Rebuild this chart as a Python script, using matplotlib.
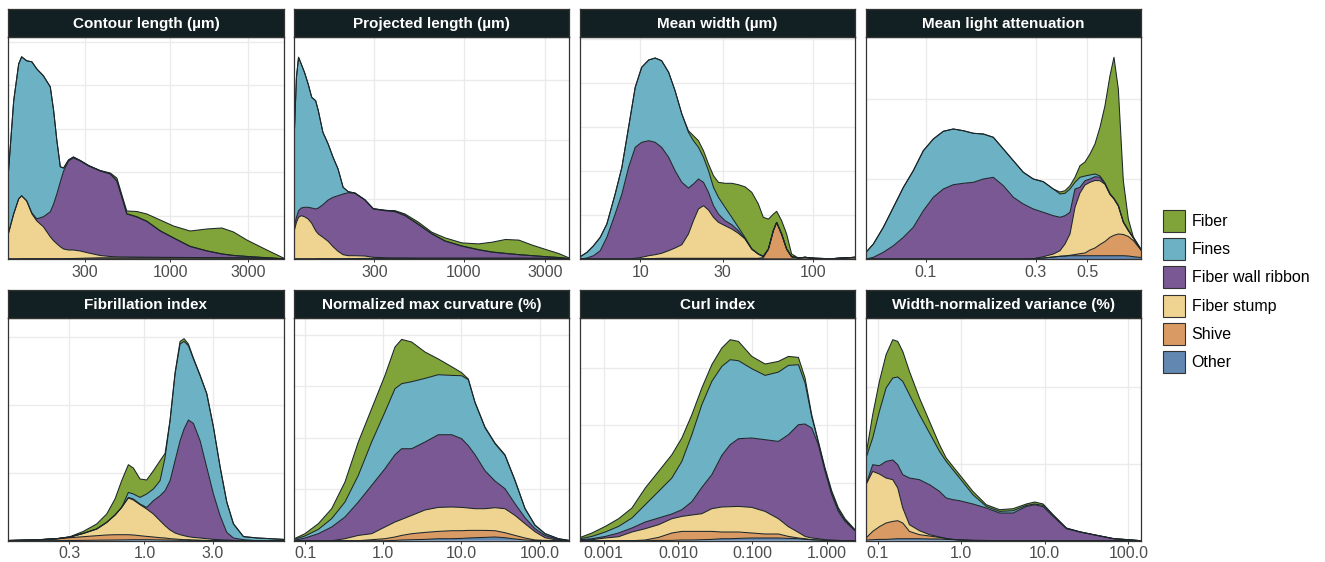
import matplotlib
matplotlib.use("Agg")
import matplotlib.pyplot as plt
from matplotlib.patches import Patch
from matplotlib.ticker import NullLocator
import numpy as np

plt.rcParams['font.family'] = ['Liberation Sans', 'DejaVu Sans']

# particle classes, legend order (top of the stack first)
classes = ["Fiber", "Fines", "Fiber wall ribbon", "Fiber stump", "Shive", "Other"]
class_colors = ["#80a33a", "#6db2c4", "#7a5893", "#eed391", "#d99b63", "#6287b1"]

# --- Contour length (um) ---
contour_x = [101, 109, 117, 122, 131, 141, 151, 166, 183, 192, 201, 211, 221, 237, 254, 280, 315, 371, 428, 470,
             504, 541, 624, 719, 868, 1048, 1327, 1681, 2079, 2452, 2961, 3930, 4977]
contour_other = [0.1, 0.1, 0.1, 0.2, 0.2, 0.2, 0.2, 0.2, 0.2, 0.2, 0.2, 0.2, 0.2, 0.2, 0.2, 0.2, 0.2, 0.2, 0.2, 0.2,
                 0.2, 0.2, 0.2, 0.2, 0.2, 0.2, 0.2, 0.2, 0.2, 0.2, 0.2, 0.2, 0.1]
contour_shive = [0, 0, 0, 0, 0, 0, 0, 0, 0, 0, 0, 0, 0.1, 0.2, 0.3, 0.5, 0.7, 1.0, 1.0, 1.0,
                 1.0, 1.0, 1.1, 1.1, 1.1, 1.1, 1.1, 1.0, 1.0, 0.9, 0.8, 0.5, 0.1]
contour_stump = [25, 45, 60, 63, 58, 45, 38, 32, 22, 18, 15, 12, 9.7, 8.6, 8.5, 7.3, 5.1, 2.3, 1.3, 1.0,
                 0.9, 0.8, 0.6, 0.5, 0.4, 0.3, 0.2, 0.2, 0.1, 0.1, 0.1, 0.1, 0]
contour_ribbon = [0, 0, 0, 0, 0, 1, 2, 10, 25, 37, 50, 65, 78, 89, 92, 90, 87, 84.5, 82.5, 75.8,
                  60, 43, 40.1, 35.7, 26.3, 19.4, 11, 6.6, 3.7, 2.3, 1.4, 0.4, 0.1]
contour_fines = [60, 113, 135, 139, 140, 151, 150, 141, 125, 93, 53, 15, 3, 1, 1, 0.5, 0.5, 0.3, 0.3, 0.3,
                 0.3, 0.3, 0.3, 0.3, 0.3, 0.2, 0.2, 0.2, 0.1, 0.1, 0.1, 0.1, 0.05]
contour_fiber = [0, 0, 0, 0, 0, 0, 0, 0, 0, 0, 0, 0, 0, 0, 0, 0, 0, 0.2, 0.7, 2.7,
                 2, 2.7, 5.2, 7.2, 10.7, 11.8, 15.3, 21.8, 25.9, 23.4, 16.4, 7.7, 0.65]

# --- Projected length (um) ---
projected_x = [102, 105, 108, 112, 117, 123, 129, 136, 141, 150, 161, 172, 184, 197, 211, 231, 264, 296, 347, 397,
               454, 544, 651, 780, 978, 1225, 1467, 1757, 2105, 2521, 3018, 3615, 4140]
projected_other = [0.1] * 8 + [0.2] * 24 + [0.1]
projected_shive = [0, 0, 0, 0, 0, 0, 0, 0, 0, 0, 0, 0, 0, 0.1, 0.1, 0.2, 0.4, 0.5, 0.5, 0.5,
                   0.5, 0.5, 0.5, 0.5, 0.5, 0.5, 0.5, 0.5, 0.5, 0.5, 0.5, 0.3, 0.1]
projected_stump = [28.2, 36.6, 41.6, 43.2, 42.2, 39.9, 35.6, 28.2, 24.8, 21.5, 17.5, 12.1, 7.5, 4.0, 3.0, 2.9,
                   2.4, 1.0, 0.6, 0.3, 0.3, 0.1, 0.1, 0.1, 0.1, 0.1, 0.1, 0.1, 0.1, 0.1, 0.1, 0.1, 0]
projected_ribbon = [5, 5, 6.6, 7.7, 9.4, 11.7, 15.3, 21.7, 26, 32.6, 41.3, 49.4, 55.6, 60.7, 63, 62.4, 56, 48.3,
                    47, 46.3, 42.3, 33.6, 24.3, 17, 12, 8.3, 6, 4.7, 3.5, 2.5, 1.5, 0.8, 0.2]
projected_fines = [91.7, 140, 153.4, 144, 135, 123.3, 110.7, 108.3, 97.3, 72.4, 56, 40, 26.7, 6.7, 1, 0.3, 0.3,
                   0.3, 0.4, 0.4, 0.4, 0.4, 0.3, 0.3, 0.3, 0.3, 0.3, 0.2, 0.1, 0.1, 0.1, 0.1, 0.1]
projected_fiber = [0] * 18 + [0, 0.6, 1.3, 2, 1.4, 3, 3, 5.7, 9.7, 13.8, 14.5, 10.5, 7.2, 3.9, 0.6]

# --- Mean width (um) ---
width_x = [4.51, 4.93, 5.38, 5.88, 6.42, 7.17, 7.84, 8.57, 9.36, 10.2, 11.2, 12.2, 13.3, 14.6, 15.9, 17.4, 19.0,
           20.3, 21.7, 23.2, 24.8, 26.5, 28.3, 30.9, 33.8, 36.9, 40.3, 44.1, 48.1, 51.4, 55.0, 58.7, 61.4, 65.6,
           70.1, 74.9, 81.9, 89.5, 102, 127, 174]
width_other = [0, 0, 0, 0, 0, 0, 0, 0, 0, 0.1, 0.3, 0.5, 0.6, 0.6, 0.6, 0.6, 0.6, 0.6, 0.6, 0.6,
               0.6, 0.6, 0.6, 0.6, 0.6, 0.6, 0.6, 0.6, 0.4, 0.2, 0.1, 0.1, 0.1, 0.1, 0.1, 0.1, 0, 0, 0, 0, 0]
width_shive = [0] * 28 + [0.3, 1.2, 9.8, 28.1, 36.5, 24.8, 9.8, 2.2, 1, 1.7, 0.7, 0.3, 1.7]
width_stump = [0, 0, 0, 0, 0, 0, 0, 0, 0.7, 1.6, 3.0, 3.8, 5.1, 7.7, 10.4, 13.7, 24.4, 37.7, 49.4, 52.7,
               48.4, 41.1, 36.1, 32.7, 29.4, 25.1, 19.4, 9.1, 4.1, 0.9] + [0] * 11
width_ribbon = [0, 1, 3.3, 8.3, 21.7, 45, 65, 91.7, 111, 115, 115, 112.4, 106, 93.4, 77.3, 62.4, 46, 36.7, 30,
                23.4, 17.7, 11.6, 8.3, 5, 4.3, 2.6, 0.5, 0.3, 0.2, 0.4] + [0] * 11
width_fines = [2.3, 5.7, 10, 13.4, 13.3, 20, 26.7, 40, 60, 75, 80.7, 84.3, 86.6, 85, 80, 68.3, 55.7, 43.3, 31.7,
               25, 21.6, 18.4, 16.7, 13.4, 7.4, 3.4, 1, 0.3, 0.1] + [0] * 12
width_fiber = [0] * 16 + [1.6, 5, 6.6, 6.6, 6.7, 11.6, 15, 24, 34, 42.6, 50.7, 56.4, 50, 39,
                          30, 16.6, 11.1, 13.4, 15.1, 2.7, 0, 0, 0, 0, 0]

# --- Mean light attenuation ---
atten_x = [0.0552, 0.0594, 0.0656, 0.0725, 0.0801, 0.0884, 0.0977, 0.1079, 0.1192, 0.1317, 0.1455, 0.1608,
           0.1776, 0.1962, 0.2168, 0.2395, 0.2645, 0.2922, 0.3228, 0.3566, 0.3811, 0.4006, 0.4210, 0.4425,
           0.4650, 0.4888, 0.5137, 0.5399, 0.5675, 0.5965, 0.6269, 0.6524, 0.6813, 0.7161, 0.7526, 0.7910, 0.8539]
atten_other = [0] * 17 + [0.3, 1, 2, 2.7, 3] + [3.3] * 12 + [3, 2.3, 1.5]
atten_shive = [0] * 22 + [0.4, 1.2, 2, 2.7, 5.7, 7.7, 11.2, 14.2, 18.4, 20.4, 21.7, 21.2, 19.5, 16.2, 7.5]
atten_stump = [0] * 18 + [1.3, 3, 5.6, 12, 21.3, 47.2, 60.7, 68, 67.7, 67.5, 63.8, 57.2, 42.8, 36.3, 28, 12.2,
                          5.8, 2.5, 0]
atten_ribbon = [0, 1.7, 6.7, 13.3, 21.7, 31.7, 48.3, 61.7, 70, 74.3, 75.7, 76.7, 80, 81.7, 73.3, 61.7, 55, 49.7,
                44.4, 38.3, 33.4, 28.3, 21.7, 18.3, 5.7, 4.3, 3.3, 3.8, 3.4, 0.6, 0.5, 0.3, 0.3, 0.3, 0.3, 0.3, 0.3]
atten_fines = [6.7, 13.3, 25, 38.4, 50, 56.6, 60, 58.3, 57.7, 55.7, 52.6, 49, 45, 40, 36.7, 36.6, 31.7, 30, 30.6,
               26.7, 23.3, 22.4, 23.3, 6.7, 10, 4.7, 4, 2.7, 1.3, 0.7, 0.3, 0.3, 0.3, 0.3, 0.3, 0.3, 0.2]
atten_fiber = [0] * 20 + [2, 2.6, 3.3, 5, 11.6, 14, 21, 30, 48.7, 77.3, 118, 141.1, 116.4, 41, 11.1, 0.4, 0.2]

# --- Fibrillation index ---
fibril_x = [0.1127, 0.168, 0.2446, 0.3031, 0.3755, 0.4652, 0.5463, 0.6244, 0.6948, 0.7735, 0.8381, 0.9328,
            1.038, 1.156, 1.286, 1.394, 1.510, 1.636, 1.773, 1.890, 2.027, 2.196, 2.444, 2.721, 3.028, 3.371,
            3.751, 4.175, 4.902, 6.073, 9.318]
fibril_other = [0, 0, 0.1, 0.2, 0.3, 0.5, 0.6, 0.7, 0.8, 0.9, 1.0, 1.0, 1.0, 0.9, 0.8, 0.7, 0.6, 0.5, 0.4, 0.4,
                0.3, 0.3, 0.2, 0.1, 0.1, 0, 0, 0, 0, 0, 0]
fibril_shive = [0.2, 0.7, 1.6, 2.8, 3.7, 4.5, 5.1, 5.3, 5.2, 5.1, 4.7, 4.0, 3.3, 2.8, 2.2, 2.0, 1.4, 1.2, 0.9,
                0.6, 0.7, 0.4, 0.3, 0.2, 0.1, 0.1, 0, 0, 0, 0, 0]
fibril_stump = [0, 0, 0.3, 0.7, 3.3, 6.7, 12.6, 19.7, 27.3, 36.7, 35, 31, 27.4, 23, 17, 12.3, 8.7, 6, 4.7, 4,
                3, 2.6, 2.2, 1.7, 1.1, 0.9, 0.7, 0.3, 0, 0, 0]
fibril_ribbon = [0, 0, 0, 0, 0, 0, 0, 0, 0, 0.6, 1.0, 0.7, 1.6, 13.3, 25, 35, 49.3, 72.3, 94, 106.7,
                 116.7, 114, 97.3, 71.3, 45.4, 24, 7.6, 2.4, 1, 0, 0]
fibril_fines = [0, 0, 0, 0, 0, 0, 0, 0, 0, 5, 5, 6.6, 13.4, 11.7, 15, 33.3, 60, 86.7, 96.7, 87.6,
                74.3, 64.4, 65, 73.4, 66.6, 48.3, 30, 14, 3, 2.7, 1.3]
fibril_fiber = [0, 0, 0, 0.3, 2, 5, 8.4, 16, 26.7, 27.7, 26, 18.4, 14, 18.3, 20, 4, 0.7, 1.3, 2.6, 2.7,
                1.7, 1, 0.7, 0.6, 0.7, 0.7, 0.7, 0.3, 0.2, 0.1, 0]

# --- Normalized max curvature (%) ---
curv_x = [0.0725, 0.0993, 0.1472, 0.2181, 0.3229, 0.4786, 0.7090, 1.050, 1.411, 1.717, 2.306, 3.416, 5.061,
          7.497, 10.07, 12.26, 14.92, 20.03, 26.9, 36.1, 48.5, 65.2, 87.5, 117.5, 174.1, 238.4]
curv_other = [0, 0, 0, 0, 0, 0, 0, 0, 0.3, 0.7, 1, 1.3, 2, 2, 2.3, 2.7, 3, 3.3, 3.7, 3, 1.7, 0.7, 0.2, 0, 0, 0]
curv_shive = [0, 0, 0, 0, 0, 0, 1, 2, 3.4, 4.6, 6, 7, 7.3, 8, 7.7, 7.6, 7.3, 7, 6.3, 5, 3.6, 2, 0.5, 0.3, 0, 0]
curv_stump = [0, 0, 0, 0, 2, 5.3, 6, 11.7, 15, 16, 18.3, 22.4, 24, 23.7, 23.3, 22.4, 21.7, 21.7, 23, 24,
              20, 14.3, 8.3, 2.7, 0.3, 0]
curv_ribbon = [0.3, 2.7, 7, 13.7, 21.7, 33.4, 48.3, 58.3, 67.3, 70.7, 66.7, 68, 72.7, 72.3, 68.7, 62.3, 54, 38,
               26.7, 20, 11.7, 6, 3, 2.3, 1, 0]
curv_fines = [1, 2, 4.3, 8.3, 15, 26.6, 43.4, 56.7, 66, 65, 67, 63.6, 60, 59.3, 63, 66, 52, 43, 37.3, 33.3,
              23, 9, 3.3, 1.7, 0.7, 0.3]
curv_fiber = [0.7, 2.3, 5.7, 10, 20, 33.4, 33.3, 36.6, 41.7, 44.3, 39.7, 26.4, 15.7, 8.7, 3, 0.7, 0.7, 0.7,
              0.7, 0.7, 0.7, 0.3, 0.4, 0.2, 0, 0]

# --- Curl index ---
curl_x = [0.000487, 0.000699, 0.001056, 0.001595, 0.00241, 0.00364, 0.0055, 0.0083, 0.01131, 0.01542, 0.0210,
          0.0286, 0.0390, 0.0505, 0.0653, 0.0987, 0.149, 0.225, 0.3068, 0.418, 0.5137, 0.6313, 0.7757, 0.9537,
          1.172, 1.44, 1.771, 2.412]
curl_other = [0, 0, 0, 0, 0, 0, 0.3, 0.3, 0.7, 0.7, 1, 1.3, 2, 2, 2.3, 2.7, 2.7, 2.7, 2.3, 2,
              1.3, 1, 0.7, 0.3, 0, 0, 0, 0]
curl_shive = [0, 0, 0, 0, 0, 0.7, 3, 7.4, 8.6, 8.6, 8.3, 8, 6.7, 6.7, 6.4, 5, 4, 4, 2, 0.7,
              0.7, 0, 0, 0, 0, 0, 0, 0]
curl_stump = [0.7, 1, 2.7, 4, 8.7, 11.3, 12.7, 14.3, 15, 16.4, 17.7, 22.7, 25, 25.3, 25.6, 25.6, 22.6, 15.3,
              9.7, 5.6, 2.3, 1.7, 1.3, 0.7, 0.7, 0.3, 0, 0]
curl_ribbon = [0.3, 1, 1.6, 3.7, 4, 6.7, 6.7, 4.7, 6.7, 13.3, 26.3, 34, 51.6, 62, 67.7, 69.4, 71.7, 77.3, 92,
               107.7, 112.4, 110, 94, 68.3, 45.3, 29, 19.3, 10]
curl_fines = [1, 2.3, 4.4, 6.6, 10, 17.3, 26.6, 36, 48.3, 67, 82.7, 93.3, 89, 85, 78, 69.3, 64.3, 69.3, 69.3,
              60, 41, 11.3, 2, 2, 2, 1.7, 1.2, 0.5]
curl_fiber = [1.3, 3.4, 5.6, 7.7, 10, 16.7, 20, 23.3, 23.4, 20, 16.7, 16.7, 18.4, 20, 19.3, 12.3, 11.4, 10.7,
              9, 7.3, 5, 2, 1.3, 1.4, 2, 2, 1.5, 0.5]

# --- Width-normalized variance (%) ---
wvar_x = [0.0724, 0.0871, 0.1047, 0.1259, 0.1514, 0.1738, 0.1995, 0.2399, 0.3162, 0.4169, 0.5495, 0.6607,
          0.7943, 0.955, 1.380, 1.995, 2.884, 4.169, 6.026, 7.586, 9.55, 12.59, 18.2, 26.3, 38.0, 66.1, 141.9]
wvar_other = [0.7, 1, 1.3, 1.3, 1.7, 2, 2, 2, 2, 1.7, 1.7, 1.3, 1, 0.7, 0.3, 0.2, 0.1] + [0] * 10
wvar_shive = [2, 8.3, 12.7, 16.4, 17.6, 18, 15.7, 7.3, 4, 3, 1.6, 0.7, 0.3] + [0] * 14
wvar_stump = [53.3, 60, 52.7, 45, 41.7, 32.7, 15, 6.7, 4, 1.3, 0.4, 0.3] + [0] * 15
wvar_ribbon = [0, 6.7, 8.3, 16.6, 19.7, 23.3, 33.3, 46.7, 51, 50, 45.6, 40.4, 39.7, 39.3, 36.4, 32.5, 27.6,
               27.7, 34.3, 36, 34, 24.3, 12, 8.7, 6, 2, 0]
wvar_fines = [26.7, 26.7, 54.3, 73.4, 82, 87.7, 93.3, 83.3, 65, 51.7, 40, 36.6, 30, 22.7, 9.3, 1.6, 1.6, 2.3,
              1, 0.7, 1.3, 1, 0.3, 0.1, 0.1, 0.1, 0]
wvar_fiber = [3.3, 23.3, 30, 33.3, 38.3, 35.6, 30, 23.3, 16.7, 11.6, 6.7, 3.4, 3.3, 3.3, 3.3, 1.7, 1.7, 2,
              1.4, 2, 1.4, 0.7, 0.4, 0.2, 0.1, 0.1, 0]

# title, x, layers (bottom to top), tick values, tick labels, y grid step
panels = [
    ("Contour length (µm)", contour_x,
     [contour_other, contour_shive, contour_stump, contour_ribbon, contour_fines, contour_fiber],
     [300, 1000, 3000], ["300", "1000", "3000"], 43.4),
    ("Projected length (µm)", projected_x,
     [projected_other, projected_shive, projected_stump, projected_ribbon, projected_fines, projected_fiber],
     [300, 1000, 3000], ["300", "1000", "3000"], 59.7),
    ("Mean width (µm)", width_x,
     [width_other, width_shive, width_stump, width_ribbon, width_fines, width_fiber],
     [10, 30, 100], ["10", "30", "100"], 44),
    ("Mean light attenuation", atten_x,
     [atten_other, atten_shive, atten_stump, atten_ribbon, atten_fines, atten_fiber],
     [0.1, 0.3, 0.5], ["0.1", "0.3", "0.5"], 80),
    ("Fibrillation index", fibril_x,
     [fibril_other, fibril_shive, fibril_stump, fibril_ribbon, fibril_fines, fibril_fiber],
     [0.3, 1, 3], ["0.3", "1.0", "3.0"], 68),
    ("Normalized max curvature (%)", curv_x,
     [curv_other, curv_shive, curv_stump, curv_ribbon, curv_fines, curv_fiber],
     [0.1, 1, 10, 100], ["0.1", "1.0", "10.0", "100.0"], 51.5),
    ("Curl index", curl_x,
     [curl_other, curl_shive, curl_stump, curl_ribbon, curl_fines, curl_fiber],
     [0.001, 0.01, 0.1, 1], ["0.001", "0.010", "0.100", "1.000"], 57.7),
    ("Width-normalized variance (%)", wvar_x,
     [wvar_other, wvar_shive, wvar_stump, wvar_ribbon, wvar_fines, wvar_fiber],
     [0.1, 1, 10, 100], ["0.1", "1.0", "10.0", "100.0"], 77),
]

stack_colors = class_colors[::-1]   # Other at the bottom, Fiber on top
line_color = "#1b2629"

W, H = 1325, 562
fig = plt.figure(figsize=(W / 100, H / 100), dpi=100)

# panel frames in pixels
cols = [(8.3, 283.5), (294.3, 569), (580.3, 855), (866, 1141)]
rows = [(37, 259, 9.3), (317.5, 540.7, 290)]   # panel top, panel bottom, strip top

for i, (title, x, layers, ticks, ticklabels, step) in enumerate(panels):
    x0, x1 = cols[i % 4]
    yt, yb, st = rows[i // 4]
    ax = fig.add_axes([x0 / W, 1 - yb / H, (x1 - x0) / W, (yb - yt) / H])
    strip = fig.add_axes([x0 / W, 1 - yt / H, (x1 - x0) / W, (yt - st) / H])

    x = np.asarray(x, dtype=float)
    lower = np.zeros_like(x)
    for vals, col in zip(layers, stack_colors):
        upper = lower + np.asarray(vals, dtype=float)
        ax.fill_between(x, lower, upper, facecolor=col, edgecolor="none", linewidth=0, zorder=2)
        lower = upper
    lower = np.zeros_like(x)
    for vals in layers:
        upper = lower + np.asarray(vals, dtype=float)
        ax.plot(x, upper, color=line_color, linewidth=0.75, zorder=3, solid_joinstyle="round")
        lower = upper

    ax.set_xscale("log")
    ax.set_xlim(x[0], x[-1])
    ymax = yb - yt
    ax.set_ylim(0, ymax)
    ax.set_xticks(ticks)
    ax.set_xticklabels(ticklabels)
    ax.xaxis.set_minor_locator(NullLocator())
    ax.set_yticks(np.arange(step, ymax, step))
    ax.grid(True, color="#ebebeb", linewidth=1.0, zorder=0)
    ax.set_axisbelow(True)
    ax.tick_params(axis="x", length=2.5, width=0.7, color="#333333", labelsize=11.5,
                   labelcolor="#4d4d4d", pad=1.5)
    ax.tick_params(axis="y", left=False, labelleft=False)
    for sp in ax.spines.values():
        sp.set_color("#333333")
        sp.set_linewidth(0.9)
        sp.set_zorder(5)

    strip.set_facecolor("#132023")
    strip.set_xticks([])
    strip.set_yticks([])
    for sp in strip.spines.values():
        sp.set_color("#333333")
        sp.set_linewidth(0.9)
    strip.text(0.5, 0.47, title, transform=strip.transAxes, ha="center", va="center",
               color="white", fontsize=11, fontweight="bold")

handles = [Patch(facecolor=c, edgecolor="#333333", linewidth=0.8) for c in class_colors]
fig.legend(handles, classes, loc="center left", bbox_to_anchor=(1162.5 / W, 1 - 291.4 / H),
           frameon=False, fontsize=11.5, handlelength=1.38, handleheight=1.75,
           handletextpad=0.45, labelspacing=0.39, borderaxespad=0, borderpad=0)

fig.savefig("out.png", dpi=100)
